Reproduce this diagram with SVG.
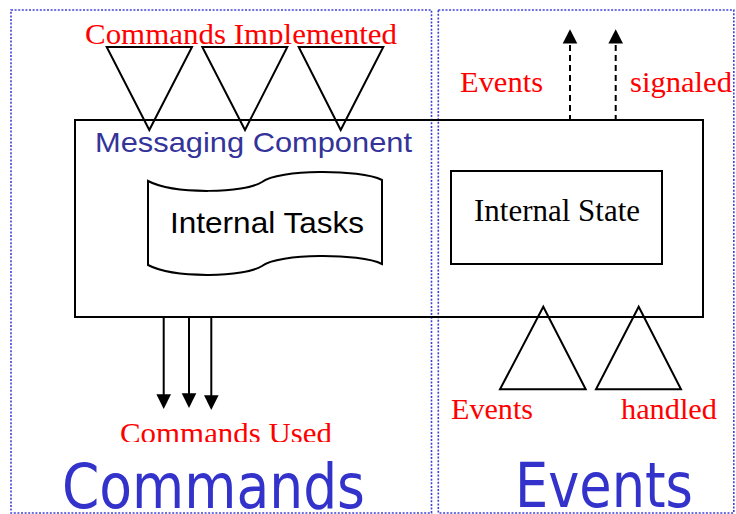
<svg xmlns="http://www.w3.org/2000/svg" width="736" height="514" viewBox="0 0 736 514">
<style>
.pane{fill:none;stroke:#4040d8;stroke-width:1.6;stroke-dasharray:2 1.6}
.shape{fill:none;stroke:#000;stroke-width:2}
.red{font-family:"Liberation Serif","Times New Roman",serif;font-size:30px;fill:#ff0000}
.serif{font-family:"Liberation Serif","Times New Roman",serif;font-size:31px;fill:#000}
.sans{font-family:"Liberation Sans",Arial,sans-serif}
.big{font-family:"DejaVu Sans","Liberation Sans",sans-serif;font-size:62px;fill:#3333cc}
.conn{stroke:#000;stroke-width:2;fill:none}
.head{fill:#000;stroke:none}
</style>
<defs>
<clipPath id="clipTop"><rect x="0" y="0" width="736" height="44.5"/></clipPath>
<clipPath id="clipUsed"><rect x="0" y="400" width="736" height="42"/></clipPath>
</defs>
<rect width="736" height="514" fill="#fff"/>

<g id="pane-commands">
<rect class="pane" x="11" y="10" width="420.5" height="503"/>
<text class="big" x="62" y="508" textLength="303" lengthAdjust="spacingAndGlyphs">Commands</text>
</g>
<g id="pane-events">
<rect class="pane" x="438.3" y="10" width="295.5" height="503"/>
<text class="big" x="515" y="507" textLength="178" lengthAdjust="spacingAndGlyphs">Events</text>
</g>

<g id="messaging-component">
<rect class="shape" x="75" y="120" width="628" height="197"/>
<text class="sans" x="95" y="152" font-size="28" fill="#333399" textLength="317" lengthAdjust="spacingAndGlyphs">Messaging Component</text>
</g>

<g id="commands-implemented">
<text class="red" x="85" y="44" clip-path="url(#clipTop)" textLength="312" lengthAdjust="spacingAndGlyphs">Commands Implemented</text>
<path class="shape" d="M106.7,47 L192,47 L149.3,130 Z"/>
<path class="shape" d="M202.3,47 L287.3,47 L245,130 Z"/>
<path class="shape" d="M298.7,47 L383.3,47 L340.7,130 Z"/>
</g>

<g id="internal-tasks">
<path class="shape" d="M148,181 C175,195 245,193 262,182 C278,169 360,169 382,180 L382,264 C360,253 278,253 262,266 C245,277 175,279 148,265 Z" fill="#fff"/>
<text class="sans" x="170" y="233" font-size="30" fill="#000" textLength="194" lengthAdjust="spacingAndGlyphs">Internal Tasks</text>
</g>

<g id="internal-state">
<rect class="shape" x="451" y="171" width="211" height="93"/>
<text class="serif" x="474" y="221" textLength="166" lengthAdjust="spacingAndGlyphs">Internal State</text>
</g>

<g id="events-signaled">
<text class="red" x="460" y="92" textLength="83" lengthAdjust="spacingAndGlyphs">Events</text>
<text class="red" x="630" y="92" textLength="102" lengthAdjust="spacingAndGlyphs">signaled</text>
</g>

<g id="events-handled">
<path class="shape" d="M543.3,306.7 L585.7,389.3 L500,389.3 Z"/>
<path class="shape" d="M638.7,306.7 L681,389.3 L596,389.3 Z"/>
<text class="red" x="451" y="419" textLength="82" lengthAdjust="spacingAndGlyphs">Events</text>
<text class="red" x="621" y="419" textLength="96" lengthAdjust="spacingAndGlyphs">handled</text>
</g>

<g id="commands-used">
<text class="red" x="120" y="443" clip-path="url(#clipUsed)" textLength="212" lengthAdjust="spacingAndGlyphs">Commands Used</text>
</g>

<g id="connectors">
<line class="conn" x1="570" y1="121" x2="570" y2="43" stroke-dasharray="6 4"/>
<path class="head" d="M570,29.3 L577.3,43.5 L562.7,43.5 Z"/>
<line class="conn" x1="615.7" y1="121" x2="615.7" y2="43" stroke-dasharray="6 4"/>
<path class="head" d="M615.7,29.3 L623,43.5 L608.4,43.5 Z"/>
<line class="conn" x1="163.7" y1="317" x2="163.7" y2="395"/>
<path class="head" d="M163.7,409 L171,394.3 L156.4,394.3 Z"/>
<line class="conn" x1="189" y1="317" x2="189" y2="394"/>
<path class="head" d="M189,408 L196.3,393.3 L181.7,393.3 Z"/>
<line class="conn" x1="211.3" y1="317" x2="211.3" y2="396"/>
<path class="head" d="M211.3,410 L218.6,395.3 L204,395.3 Z"/>
</g>
</svg>
